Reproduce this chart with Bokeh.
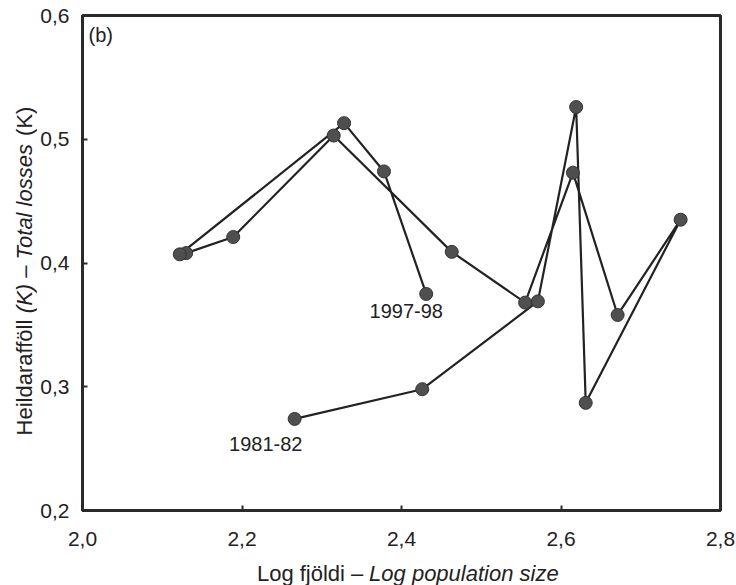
from bokeh.plotting import figure
from bokeh.layouts import row, column
from bokeh.models import Range1d, FixedTicker, Label, ColumnDataSource
from bokeh.core.properties import value
from bokeh.embed import file_html
from bokeh.resources import INLINE
import math

# Seasons, log population size and total losses (K)
seasons = ["1981-82", "1982-83", "1983-84", "1984-85", "1985-86", "1986-87",
           "1987-88", "1988-89", "1989-90", "1990-91", "1991-92", "1992-93",
           "1993-94", "1994-95", "1995-96", "1996-97", "1997-98"]
log_pop = [2.266, 2.426, 2.571, 2.619, 2.631, 2.750, 2.671, 2.615, 2.555,
           2.463, 2.315, 2.189, 2.130, 2.122, 2.328, 2.378, 2.431]
total_loss = [0.274, 0.298, 0.369, 0.526, 0.287, 0.435, 0.358, 0.473, 0.368,
              0.409, 0.503, 0.421, 0.408, 0.407, 0.513, 0.474, 0.375]

x_ticks = [2.0, 2.2, 2.4, 2.6, 2.8]
x_tick_labels = ["2,0", "2,2", "2,4", "2,6", "2,8"]
y_ticks = [0.2, 0.3, 0.4, 0.5, 0.6]
y_tick_labels = ["0,2", "0,3", "0,4", "0,5", "0,6"]

x_title = [("Log fjöldi – ", "normal"), ("Log population size", "italic")]
y_title = [("Heildarafföll ", "normal"), ("(K)", "italic"), (" – ", "normal"),
           ("Total losses", "italic"), (" (K)", "normal")]

# page geometry (pixels)
W, H = 736, 585
YT_W = 37                      # strip holding the rotated y title
FRAME_L, FRAME_R = 80, 720
FRAME_T, FRAME_B = 15, 510
MAIN_H = 556                   # main plot height; x title strip below it
X0, X1 = 2.0, 2.8
Y0, Y1 = 0.2, 0.6
FRAME_W = FRAME_R - FRAME_L
FRAME_H = FRAME_B - FRAME_T

FONT = "Liberation Sans"
INK = "#222222"
EDGE = "#2a2a2a"

p = figure(width=W - YT_W, height=MAIN_H, output_backend="svg",
           toolbar_location=None,
           x_range=Range1d(X0, X1), y_range=Range1d(Y0, Y1),
           min_border_left=FRAME_L - YT_W, min_border_right=W - FRAME_R,
           min_border_top=FRAME_T, min_border_bottom=MAIN_H - FRAME_B)
p.grid.visible = False
p.background_fill_color = "white"
p.border_fill_color = "white"
p.outline_line_color = EDGE
p.outline_line_width = 3

p.xaxis.ticker = FixedTicker(ticks=x_ticks)
p.yaxis.ticker = FixedTicker(ticks=y_ticks)
p.xaxis.major_label_overrides = dict(zip(x_ticks, x_tick_labels))
p.yaxis.major_label_overrides = dict(zip(y_ticks, y_tick_labels))
for ax in (p.xaxis, p.yaxis):
    ax.axis_line_color = EDGE
    ax.axis_line_width = 3
    ax.major_tick_in = 5
    ax.major_tick_out = 0
    ax.major_tick_line_width = 2
    ax.major_tick_line_color = EDGE
    ax.minor_tick_line_color = None
    ax.major_label_text_font = FONT
    ax.major_label_text_font_size = "21px"
    ax.major_label_text_color = INK
p.xaxis.major_label_standoff = 21
p.yaxis.major_label_standoff = 13


# pixel-offset helpers for placing annotations relative to the data
def dx(px):
    return px * (X1 - X0) / FRAME_W


def dy(px):
    return px * (Y1 - Y0) / FRAME_H


src = ColumnDataSource(dict(x=log_pop, y=total_loss, season=seasons))
p.line("x", "y", source=src, line_color=INK, line_width=2.2)
p.scatter("x", "y", source=src, size=13, fill_color="#4f4f4f",
          line_color="#333333", line_width=1)

# season labels at the ends of the trajectory
p.add_layout(Label(x=log_pop[0] + dx(-29), y=total_loss[0] - dy(25),
                   text=seasons[0], text_align="center", text_baseline="middle",
                   text_font=FONT, text_font_size="20px", text_color=INK))
p.add_layout(Label(x=log_pop[-1] + dx(-20), y=total_loss[-1] - dy(17),
                   text=seasons[-1], text_align="center", text_baseline="middle",
                   text_font=FONT, text_font_size="20px", text_color=INK))

# panel tag
p.add_layout(Label(x=X0 + dx(6), y=Y1 - dy(8), text="(b)",
                   text_align="left", text_baseline="top", text_font=FONT,
                   text_font_size="20px", text_color=INK))

# Arial / Liberation Sans advance widths (1/1000 em)
ADV = {" ": 278, "L": 556, "o": 556, "g": 556, "f": 278, "j": 222, "ö": 556,
       "l": 222, "d": 556, "i": 222, "–": 556, "p": 556, "u": 556, "a": 556,
       "t": 278, "n": 556, "s": 500, "z": 500, "e": 556, "H": 722, "r": 333,
       "(": 333, ")": 333, "K": 667, "T": 611}


def text_width(s, size):
    return sum(ADV.get(c, 556) for c in s) * size / 1000.0


LABEL_SIZE = 22


def title_strip(w, h, borders, xr, yr):
    """Blank figure whose data units are page pixels (y measured upward)."""
    left, right, top, bottom = borders
    f = figure(width=w, height=h, output_backend="svg", toolbar_location=None,
               x_range=Range1d(*xr), y_range=Range1d(*yr),
               x_axis_type=None, y_axis_type=None,
               min_border_left=left, min_border_right=right,
               min_border_top=top, min_border_bottom=bottom)
    f.outline_line_color = None
    f.grid.visible = False
    f.background_fill_color = "white"
    f.border_fill_color = "white"
    return f


def draw_runs(f, parts, start, fixed, vertical, baseline):
    """Write styled text runs one after another along the strip."""
    cur = start
    for s, style in parts:
        lead = len(s) - len(s.lstrip(" "))
        pos = cur + text_width(s[:lead], LABEL_SIZE)
        if vertical:
            xs, ys, ang = [fixed], [pos], math.pi / 2
        else:
            xs, ys, ang = [pos], [fixed], 0
        f.text(x=xs, y=ys, text=[s.strip(" ")], angle=ang,
               text_align="left", text_baseline=baseline,
               text_font=value(FONT), text_font_size=value(f"{LABEL_SIZE}px"),
               text_font_style=value(style), text_color=INK)
        cur += text_width(s, LABEL_SIZE)


# x title strip under the main plot; frame spans the same columns as the plot
xt_h = H - MAIN_H
xt = title_strip(W - YT_W, xt_h, (FRAME_L - YT_W, W - FRAME_R, 0, 0),
                 (FRAME_L, FRAME_R), (0, xt_h))
total = sum(text_width(s, LABEL_SIZE) for s, _ in x_title)
x_start = (FRAME_L + FRAME_R) / 2 + 6 - total / 2
draw_runs(xt, x_title, x_start, H - 573, vertical=False, baseline="alphabetic")

# y title strip left of the main plot; frame spans the same rows as the plot
yt = title_strip(YT_W, H, (0, 0, FRAME_T, H - FRAME_B),
                 (0, YT_W), (H - FRAME_B, H - FRAME_T))
total = sum(text_width(s, LABEL_SIZE) for s, _ in y_title)
y_start = H - ((FRAME_T + FRAME_B) / 2 + 8 + total / 2)
draw_runs(yt, y_title, y_start, 24, vertical=True, baseline="middle")

layout = row(yt, column(p, xt, spacing=0), spacing=0)
open("out.html", "w").write(file_html(layout, INLINE))
